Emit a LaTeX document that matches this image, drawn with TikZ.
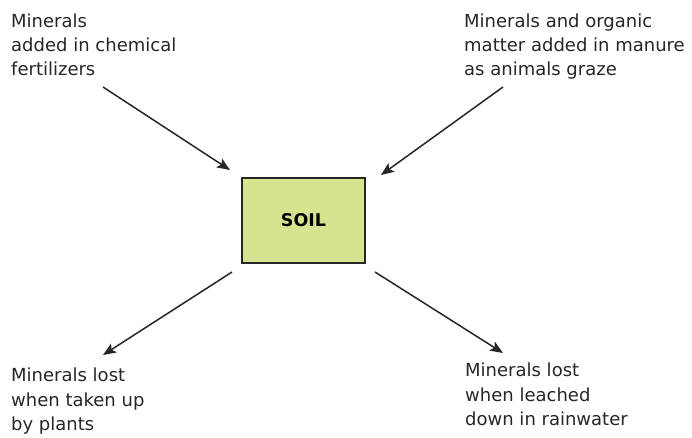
\documentclass[tikz,border=0pt]{standalone}
\usepackage{fontspec}
\setmainfont{DejaVu Sans}
\usetikzlibrary{arrows.meta}
\definecolor{soilgreen}{RGB}{214,228,143}
\definecolor{inkgray}{RGB}{38,38,38}
\tikzset{
  label text/.style={anchor=north west, inner sep=0pt, align=left,
    text=inkgray, font=\fontsize{18}{24.4}\selectfont},
  soilbox/.style={draw=inkgray, line width=1.4pt, fill=soilgreen,
    minimum width=123pt, minimum height=85pt, inner sep=0pt,
    font=\fontsize{17.5}{20}\selectfont\bfseries, text=black},
  flow/.style={draw=inkgray, line width=1.5pt,
    -{Stealth[length=13pt, width=10.5pt, inset=3pt]}}
}
\begin{document}
\begin{tikzpicture}[x=1pt, y=-1pt]
  \useasboundingbox (0,0) rectangle (692,437);
  % central box
  \node[soilbox] (soil) at (303.5,220.5) {SOIL};
  % four captions
  \node[label text] (chem) at (11,13.3) {Minerals\\added in chemical\\fertilizers};
  \node[label text] (manure) at (464,13.3) {Minerals and organic\\matter added in manure\\as animals graze};
  \node[label text] (plants) at (11,368) {Minerals lost\\when taken up\\by plants};
  \node[label text] (leach) at (465,363) {Minerals lost\\when leached\\down in rainwater};
  % arrow end points
  \coordinate (c1s) at (103,87);  \coordinate (c1e) at (230,170);
  \coordinate (c2s) at (503,87);  \coordinate (c2e) at (381,175);
  \coordinate (c3s) at (232,272); \coordinate (c3e) at (103,355);
  \coordinate (c4s) at (375,272); \coordinate (c4e) at (503,353);
  % gains into the soil, losses out of it
  \draw[flow] (c1s) -- (c1e);
  \draw[flow] (c2s) -- (c2e);
  \draw[flow] (c3s) -- (c3e);
  \draw[flow] (c4s) -- (c4e);
\end{tikzpicture}
\end{document}
